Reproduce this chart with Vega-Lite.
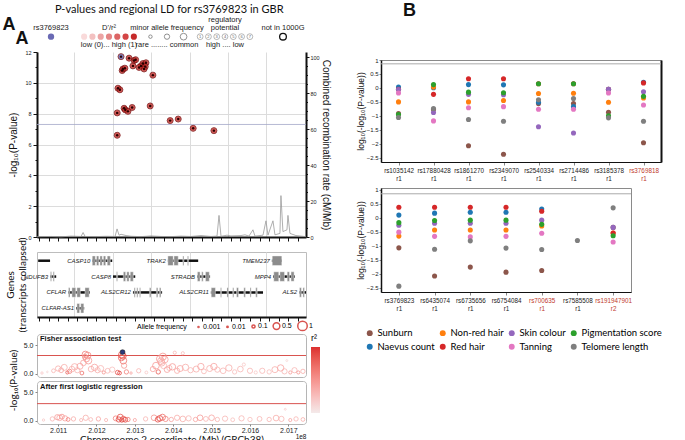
{
"$schema": "https://vega.github.io/schema/vega-lite/v6.json",
"padding": {"left": 2, "top": 2, "right": 0, "bottom": 0},
"background": "white",
"config": {
  "font": "Liberation Sans",
  "axis": {"titleFontWeight": "normal", "labelColor": "#222", "titleColor": "#111", "labelFont": "Liberation Sans", "titleFont": "Liberation Sans"},
  "title": {"fontWeight": "normal", "color": "#111"},
  "legend": {"labelFont": "Liberation Sans", "titleFont": "Liberation Sans", "titleFontWeight": "normal"}
},
"datasets": {
  "legtext": [
    {"g": "rs", "r": "h", "t": "rs3769823"},
    {"g": "ld", "r": "h", "t": "D'/r²"},
    {"g": "maf", "r": "h", "t": "minor allele frequency"},
    {"g": "reg", "r": "h0", "t": "regulatory"},
    {"g": "reg", "r": "h", "t": "potential"},
    {"g": "kg", "r": "h", "t": "not in 1000G"},
    {"g": "ld", "r": "c", "t": "low (0)... high (1)"},
    {"g": "maf", "r": "c", "t": "rare ........ common"},
    {"g": "reg", "r": "c", "t": "high .... low"}
  ],
  "legdots": [
    {"g": "rs", "r": "d", "k": 3},
    {"g": "ld", "r": "d", "k": 0}, {"g": "ld", "r": "d", "k": 1}, {"g": "ld", "r": "d", "k": 2}, {"g": "ld", "r": "d", "k": 3}, {"g": "ld", "r": "d", "k": 4}, {"g": "ld", "r": "d", "k": 5}, {"g": "ld", "r": "d", "k": 6},
    {"g": "maf", "r": "d", "k": 1}, {"g": "maf", "r": "d", "k": 3}, {"g": "maf", "r": "d", "k": 5},
    {"g": "reg", "r": "d", "k": 0, "n": "1"}, {"g": "reg", "r": "d", "k": 1, "n": "2"}, {"g": "reg", "r": "d", "k": 2, "n": "3"}, {"g": "reg", "r": "d", "k": 3, "n": "4"}, {"g": "reg", "r": "d", "k": 4, "n": "5"}, {"g": "reg", "r": "d", "k": 5, "n": "6"}, {"g": "reg", "r": "d", "k": 6, "n": "7"},
    {"g": "kg", "r": "d", "k": 3}
  ],
  "panels": [
    {"panel": "fisher", "pos": 201.045, "p": 6.1, "label": "Fisher association test"},
    {"panel": "logit", "pos": 201.045, "p": 5.95, "label": "After first logistic regression"}
  ],
  "snps": [
    {"pos": 201.285, "p": 11.6, "type": "ld"}, {"pos": 201.298, "p": 11.45, "type": "ld"}, {"pos": 201.302, "p": 11.5, "type": "ld"},
    {"pos": 201.321, "p": 11.25, "type": "ld"}, {"pos": 201.329, "p": 11.3, "type": "ld"}, {"pos": 201.316, "p": 11.1, "type": "ld"},
    {"pos": 201.327, "p": 11.05, "type": "ld"}, {"pos": 201.324, "p": 10.9, "type": "ld"}, {"pos": 201.311, "p": 11.0, "type": "ld"},
    {"pos": 201.295, "p": 11.1, "type": "ld"}, {"pos": 201.267, "p": 10.8, "type": "ld"}, {"pos": 201.269, "p": 10.9, "type": "ld"},
    {"pos": 201.274, "p": 10.95, "type": "ld"}, {"pos": 201.347, "p": 10.5, "type": "ld"}, {"pos": 201.256, "p": 9.65, "type": "ld"},
    {"pos": 201.261, "p": 9.55, "type": "ld"}, {"pos": 201.254, "p": 8.05, "type": "ld"}, {"pos": 201.272, "p": 8.35, "type": "ld"},
    {"pos": 201.275, "p": 8.25, "type": "ld"}, {"pos": 201.282, "p": 8.15, "type": "ld"}, {"pos": 201.293, "p": 8.4, "type": "ld"},
    {"pos": 201.340, "p": 8.5, "type": "ld"}, {"pos": 201.392, "p": 7.55, "type": "ld"}, {"pos": 201.413, "p": 7.65, "type": "ld"},
    {"pos": 201.452, "p": 7.05, "type": "ld"}, {"pos": 201.506, "p": 6.9, "type": "ld"}, {"pos": 201.254, "p": 6.6, "type": "ld"},
    {"pos": 201.264, "p": 11.7, "type": "lead"}
  ],
  "recomb": [
    {"pos": 201.0453, "rate": 0.2}, {"pos": 201.0818, "rate": 0.3}, {"pos": 201.1078, "rate": 0.1}, {"pos": 201.1339, "rate": 0.5},
    {"pos": 201.1599, "rate": 0.3}, {"pos": 201.1651, "rate": 2.5}, {"pos": 201.1703, "rate": 0.3}, {"pos": 201.199, "rate": 0.2},
    {"pos": 201.225, "rate": 0.4}, {"pos": 201.2484, "rate": 0.3}, {"pos": 201.2536, "rate": 4.5}, {"pos": 201.2589, "rate": 1.0},
    {"pos": 201.2641, "rate": 1.5}, {"pos": 201.2771, "rate": 0.8}, {"pos": 201.2901, "rate": 0.4}, {"pos": 201.3161, "rate": 0.2},
    {"pos": 201.3422, "rate": 0.6}, {"pos": 201.3682, "rate": 0.3}, {"pos": 201.3943, "rate": 0.2}, {"pos": 201.4203, "rate": 0.5},
    {"pos": 201.4464, "rate": 0.3}, {"pos": 201.4724, "rate": 0.8}, {"pos": 201.4984, "rate": 0.3}, {"pos": 201.5141, "rate": 0.5},
    {"pos": 201.5193, "rate": 12}, {"pos": 201.5245, "rate": 0.4}, {"pos": 201.5401, "rate": 1}, {"pos": 201.5505, "rate": 0.6},
    {"pos": 201.5766, "rate": 0.8}, {"pos": 201.587, "rate": 1.2}, {"pos": 201.5974, "rate": 0.5}, {"pos": 201.6078, "rate": 4},
    {"pos": 201.613, "rate": 0.5}, {"pos": 201.6339, "rate": 1}, {"pos": 201.6417, "rate": 9}, {"pos": 201.6469, "rate": 1},
    {"pos": 201.6599, "rate": 9}, {"pos": 201.6651, "rate": 1.2}, {"pos": 201.6781, "rate": 2}, {"pos": 201.6807, "rate": 23},
    {"pos": 201.6859, "rate": 3}, {"pos": 201.6964, "rate": 4}, {"pos": 201.699, "rate": 12}, {"pos": 201.7042, "rate": 2},
    {"pos": 201.7198, "rate": 0.8}, {"pos": 201.7328, "rate": 0.5}, {"pos": 201.7458, "rate": 0.2}
  ],
  "genes": [
    {"gene": "", "row": 1, "start": 201.048, "end": 201.079},
    {"gene": "CASP10", "row": 1, "start": 201.189, "end": 201.241},
    {"gene": "TRAK2", "row": 1, "start": 201.386, "end": 201.465},
    {"gene": "TMEM237", "row": 1, "start": 201.657, "end": 201.683},
    {"gene": "NDUFB3", "row": 2, "start": 201.079, "end": 201.095},
    {"gene": "CASP8", "row": 2, "start": 201.243, "end": 201.301},
    {"gene": "STRADB", "row": 2, "start": 201.462, "end": 201.496},
    {"gene": "MPP4", "row": 2, "start": 201.66, "end": 201.717},
    {"gene": "CFLAR", "row": 3, "start": 201.126, "end": 201.183},
    {"gene": "ALS2CR12", "row": 3, "start": 201.295, "end": 201.371},
    {"gene": "ALS2CR11", "row": 3, "start": 201.498, "end": 201.634},
    {"gene": "ALS2", "row": 3, "start": 201.728, "end": 201.76},
    {"gene": "CLFAR-AS1", "row": 4, "start": 201.147, "end": 201.168}
  ],
  "exons": [
    {"row": 1, "s": 201.189, "e": 201.197}, {"row": 1, "s": 201.2, "e": 201.206}, {"row": 1, "s": 201.209, "e": 201.215}, {"row": 1, "s": 201.218, "e": 201.224}, {"row": 1, "s": 201.228, "e": 201.236},
    {"row": 1, "s": 201.386, "e": 201.4}, {"row": 1, "s": 201.402, "e": 201.413}, {"row": 1, "s": 201.425, "e": 201.428}, {"row": 1, "s": 201.437, "e": 201.44},
    {"row": 1, "s": 201.658, "e": 201.683},
    {"row": 2, "s": 201.08, "e": 201.083}, {"row": 2, "s": 201.087, "e": 201.09},
    {"row": 2, "s": 201.252, "e": 201.255}, {"row": 2, "s": 201.27, "e": 201.276}, {"row": 2, "s": 201.279, "e": 201.285}, {"row": 2, "s": 201.288, "e": 201.296},
    {"row": 2, "s": 201.463, "e": 201.47}, {"row": 2, "s": 201.474, "e": 201.478}, {"row": 2, "s": 201.484, "e": 201.494},
    {"row": 2, "s": 201.662, "e": 201.675}, {"row": 2, "s": 201.678, "e": 201.69}, {"row": 2, "s": 201.697, "e": 201.703}, {"row": 2, "s": 201.707, "e": 201.715},
    {"row": 3, "s": 201.127, "e": 201.131}, {"row": 3, "s": 201.136, "e": 201.146}, {"row": 3, "s": 201.149, "e": 201.158}, {"row": 3, "s": 201.17, "e": 201.181},
    {"row": 3, "s": 201.298, "e": 201.301}, {"row": 3, "s": 201.305, "e": 201.308}, {"row": 3, "s": 201.312, "e": 201.315}, {"row": 3, "s": 201.338, "e": 201.342}, {"row": 3, "s": 201.356, "e": 201.36}, {"row": 3, "s": 201.364, "e": 201.368},
    {"row": 3, "s": 201.499, "e": 201.51}, {"row": 3, "s": 201.523, "e": 201.526}, {"row": 3, "s": 201.54, "e": 201.544}, {"row": 3, "s": 201.555, "e": 201.558}, {"row": 3, "s": 201.565, "e": 201.57}, {"row": 3, "s": 201.584, "e": 201.588}, {"row": 3, "s": 201.6, "e": 201.603}, {"row": 3, "s": 201.615, "e": 201.619},
    {"row": 3, "s": 201.729, "e": 201.734}, {"row": 3, "s": 201.738, "e": 201.742},
    {"row": 4, "s": 201.149, "e": 201.156}, {"row": 4, "s": 201.159, "e": 201.167}
  ],
  "fisher": [
    {"pos": 201.266, "p": 3.3, "r2": 0.85, "af": 0.5}, {"pos": 201.269, "p": 3.1, "r2": 0.9, "af": 0.45}, {"pos": 201.265, "p": 2.8, "r2": 0.75, "af": 0.4},
    {"pos": 201.27, "p": 2.3, "r2": 0.7, "af": 0.5}, {"pos": 201.272, "p": 1.4, "r2": 0.5, "af": 0.3},
    {"pos": 201.171, "p": 3.4, "r2": 0.6, "af": 0.45}, {"pos": 201.177, "p": 3.2, "r2": 0.55, "af": 0.5}, {"pos": 201.174, "p": 2.6, "r2": 0.5, "af": 0.4},
    {"pos": 201.179, "p": 2.3, "r2": 0.45, "af": 0.5}, {"pos": 201.166, "p": 1.9, "r2": 0.4, "af": 0.35}, {"pos": 201.17, "p": 2.95, "r2": 0.5, "af": 0.3},
    {"pos": 201.365, "p": 2.6, "r2": 0.45, "af": 0.5}, {"pos": 201.373, "p": 3.0, "r2": 0.5, "af": 0.55}, {"pos": 201.378, "p": 2.5, "r2": 0.4, "af": 0.5},
    {"pos": 201.37, "p": 1.9, "r2": 0.35, "af": 0.45}, {"pos": 201.368, "p": 2.2, "r2": 0.4, "af": 0.5}, {"pos": 201.375, "p": 1.4, "r2": 0.3, "af": 0.4},
    {"pos": 201.39, "p": 1.0, "r2": 0.3, "af": 0.3}, {"pos": 201.404, "p": 3.7, "r2": 0.3, "af": 0.1}, {"pos": 201.425, "p": 3.6, "r2": 0.25, "af": 0.1},
    {"pos": 201.584, "p": 1.6, "r2": 0.2, "af": 0.1}, {"pos": 201.696, "p": 2.3, "r2": 0.1, "af": 0.03},
    {"pos": 201.058, "p": 0.1, "r2": 0.2, "af": 0.05}, {"pos": 201.072, "p": 0.3, "r2": 0.1, "af": 0.02}, {"pos": 201.088, "p": 0.5, "r2": 0.3, "af": 0.15},
    {"pos": 201.1, "p": 0.9, "r2": 0.35, "af": 0.3}, {"pos": 201.108, "p": 0.6, "r2": 0.4, "af": 0.25}, {"pos": 201.116, "p": 1.1, "r2": 0.35, "af": 0.4},
    {"pos": 201.124, "p": 0.2, "r2": 0.8, "af": 0.1}, {"pos": 201.13, "p": 0.4, "r2": 0.6, "af": 0.2}, {"pos": 201.136, "p": 0.8, "r2": 0.3, "af": 0.35},
    {"pos": 201.143, "p": 1.2, "r2": 0.35, "af": 0.45}, {"pos": 201.15, "p": 0.6, "r2": 0.3, "af": 0.3}, {"pos": 201.157, "p": 1.3, "r2": 0.4, "af": 0.4},
    {"pos": 201.162, "p": 0.1, "r2": 0.7, "af": 0.15}, {"pos": 201.186, "p": 0.8, "r2": 0.35, "af": 0.35}, {"pos": 201.195, "p": 1.1, "r2": 0.4, "af": 0.45},
    {"pos": 201.203, "p": 0.6, "r2": 0.35, "af": 0.3}, {"pos": 201.211, "p": 0.9, "r2": 0.3, "af": 0.4}, {"pos": 201.219, "p": 0.2, "r2": 0.5, "af": 0.1},
    {"pos": 201.229, "p": 0.5, "r2": 0.3, "af": 0.25}, {"pos": 201.241, "p": 0.7, "r2": 0.25, "af": 0.3}, {"pos": 201.255, "p": 0.2, "r2": 0.85, "af": 0.2},
    {"pos": 201.26, "p": 0.1, "r2": 0.9, "af": 0.15}, {"pos": 201.278, "p": 0.3, "r2": 0.6, "af": 0.2}, {"pos": 201.29, "p": 0.1, "r2": 0.4, "af": 0.05},
    {"pos": 201.31, "p": 0.5, "r2": 0.3, "af": 0.2}, {"pos": 201.33, "p": 0.2, "r2": 0.2, "af": 0.08}, {"pos": 201.347, "p": 0.8, "r2": 0.4, "af": 0.3},
    {"pos": 201.355, "p": 1.4, "r2": 0.45, "af": 0.5}, {"pos": 201.361, "p": 0.3, "r2": 0.8, "af": 0.2}, {"pos": 201.384, "p": 0.7, "r2": 0.4, "af": 0.35},
    {"pos": 201.398, "p": 1.2, "r2": 0.45, "af": 0.45}, {"pos": 201.41, "p": 0.5, "r2": 0.35, "af": 0.3}, {"pos": 201.418, "p": 0.9, "r2": 0.4, "af": 0.4},
    {"pos": 201.432, "p": 1.1, "r2": 0.35, "af": 0.45}, {"pos": 201.445, "p": 0.6, "r2": 0.3, "af": 0.3}, {"pos": 201.46, "p": 0.8, "r2": 0.35, "af": 0.4},
    {"pos": 201.472, "p": 1.25, "r2": 0.4, "af": 0.45}, {"pos": 201.48, "p": 0.4, "r2": 0.3, "af": 0.25}, {"pos": 201.495, "p": 0.9, "r2": 0.35, "af": 0.4},
    {"pos": 201.506, "p": 1.25, "r2": 0.4, "af": 0.45}, {"pos": 201.515, "p": 0.7, "r2": 0.3, "af": 0.3}, {"pos": 201.53, "p": 0.5, "r2": 0.3, "af": 0.35},
    {"pos": 201.545, "p": 1.0, "r2": 0.35, "af": 0.45}, {"pos": 201.56, "p": 0.3, "r2": 0.25, "af": 0.2}, {"pos": 201.575, "p": 0.8, "r2": 0.3, "af": 0.35},
    {"pos": 201.6, "p": 0.5, "r2": 0.3, "af": 0.3}, {"pos": 201.615, "p": 0.2, "r2": 0.2, "af": 0.1}, {"pos": 201.632, "p": 0.5, "r2": 0.3, "af": 0.3},
    {"pos": 201.65, "p": 0.3, "r2": 0.25, "af": 0.2}, {"pos": 201.665, "p": 0.7, "r2": 0.35, "af": 0.4}, {"pos": 201.68, "p": 1.0, "r2": 0.4, "af": 0.45},
    {"pos": 201.69, "p": 0.4, "r2": 0.3, "af": 0.3}, {"pos": 201.705, "p": 0.2, "r2": 0.45, "af": 0.1}, {"pos": 201.716, "p": 0.6, "r2": 0.3, "af": 0.3},
    {"pos": 201.726, "p": 0.2, "r2": 0.5, "af": 0.1}, {"pos": 201.738, "p": 0.4, "r2": 0.35, "af": 0.2},
    {"pos": 201.268, "p": 3.8, "r2": 1, "af": 0.3, "lead": 1}
  ],
  "logit": [
    {"pos": 201.062, "p": 0.1, "r2": 0.2, "af": 0.05}, {"pos": 201.085, "p": 0.3, "r2": 0.3, "af": 0.2}, {"pos": 201.098, "p": 0.6, "r2": 0.45, "af": 0.3},
    {"pos": 201.104, "p": 0.5, "r2": 0.4, "af": 0.35}, {"pos": 201.11, "p": 0.7, "r2": 0.5, "af": 0.25}, {"pos": 201.118, "p": 0.4, "r2": 0.4, "af": 0.3},
    {"pos": 201.126, "p": 0.2, "r2": 0.6, "af": 0.15}, {"pos": 201.14, "p": 0.3, "r2": 0.35, "af": 0.2}, {"pos": 201.16, "p": 0.1, "r2": 0.3, "af": 0.1},
    {"pos": 201.172, "p": 0.5, "r2": 0.35, "af": 0.3}, {"pos": 201.185, "p": 0.2, "r2": 0.3, "af": 0.15}, {"pos": 201.205, "p": 0.3, "r2": 0.4, "af": 0.2},
    {"pos": 201.225, "p": 0.1, "r2": 0.3, "af": 0.1}, {"pos": 201.25, "p": 0.4, "r2": 0.6, "af": 0.25}, {"pos": 201.258, "p": 0.2, "r2": 0.9, "af": 0.3},
    {"pos": 201.262, "p": 0.6, "r2": 0.85, "af": 0.4}, {"pos": 201.266, "p": 0.1, "r2": 0.95, "af": 0.2}, {"pos": 201.27, "p": 0.3, "r2": 0.8, "af": 0.3},
    {"pos": 201.275, "p": 0.15, "r2": 0.9, "af": 0.25}, {"pos": 201.282, "p": 0.2, "r2": 0.6, "af": 0.2}, {"pos": 201.3, "p": 0.1, "r2": 0.4, "af": 0.1},
    {"pos": 201.328, "p": 0.3, "r2": 0.3, "af": 0.2}, {"pos": 201.35, "p": 0.5, "r2": 0.5, "af": 0.35}, {"pos": 201.36, "p": 0.2, "r2": 0.85, "af": 0.3},
    {"pos": 201.365, "p": 0.4, "r2": 0.9, "af": 0.35}, {"pos": 201.372, "p": 0.6, "r2": 0.7, "af": 0.4}, {"pos": 201.38, "p": 0.3, "r2": 0.6, "af": 0.3},
    {"pos": 201.395, "p": 0.2, "r2": 0.4, "af": 0.2}, {"pos": 201.41, "p": 0.5, "r2": 0.35, "af": 0.3}, {"pos": 201.425, "p": 0.3, "r2": 0.35, "af": 0.35},
    {"pos": 201.44, "p": 0.4, "r2": 0.3, "af": 0.3}, {"pos": 201.458, "p": 0.2, "r2": 0.4, "af": 0.2}, {"pos": 201.47, "p": 0.5, "r2": 0.45, "af": 0.35},
    {"pos": 201.485, "p": 0.3, "r2": 0.3, "af": 0.25}, {"pos": 201.5, "p": 0.5, "r2": 0.4, "af": 0.35}, {"pos": 201.515, "p": 0.2, "r2": 0.3, "af": 0.2},
    {"pos": 201.535, "p": 0.35, "r2": 0.3, "af": 0.3}, {"pos": 201.555, "p": 0.15, "r2": 0.25, "af": 0.15}, {"pos": 201.578, "p": 0.4, "r2": 0.3, "af": 0.3},
    {"pos": 201.6, "p": 0.2, "r2": 0.25, "af": 0.2}, {"pos": 201.625, "p": 0.3, "r2": 0.3, "af": 0.25}, {"pos": 201.65, "p": 0.2, "r2": 0.3, "af": 0.2},
    {"pos": 201.668, "p": 0.45, "r2": 0.35, "af": 0.35}, {"pos": 201.682, "p": 0.3, "r2": 0.3, "af": 0.3}, {"pos": 201.692, "p": 2.0, "r2": 0.15, "af": 0.03},
    {"pos": 201.705, "p": 0.1, "r2": 0.4, "af": 0.1}, {"pos": 201.72, "p": 0.3, "r2": 0.3, "af": 0.2}, {"pos": 201.738, "p": 0.2, "r2": 0.35, "af": 0.15}
  ],
  "b1": [
    {"snp": "rs1035142|r1", "Sunburn": -0.92, "Naevus count": 0.03, "Non-red hair": -0.5, "Red hair": -0.05, "Skin colour": -0.06, "Tanning": -0.18, "Pigmentation score": -0.95, "Telomere length": -1.06},
    {"snp": "rs17880428|r1", "Sunburn": -0.77, "Naevus count": 0.01, "Non-red hair": 0.03, "Red hair": -0.23, "Skin colour": -0.88, "Tanning": -1.18, "Pigmentation score": 0.12, "Telomere length": -0.74},
    {"snp": "rs1861270|r1", "Sunburn": -2.07, "Naevus count": 0.12, "Non-red hair": -0.5, "Red hair": 0.33, "Skin colour": -0.23, "Tanning": -0.71, "Pigmentation score": -0.15, "Telomere length": -1.13},
    {"snp": "rs2349070|r1", "Sunburn": -2.37, "Naevus count": 0.11, "Non-red hair": -0.45, "Red hair": 0.33, "Skin colour": -0.24, "Tanning": -0.67, "Pigmentation score": -0.17, "Telomere length": -1.19},
    {"snp": "rs2540334|r1", "Sunburn": -0.56, "Naevus count": -0.51, "Non-red hair": -0.2, "Red hair": 0.15, "Skin colour": -1.39, "Tanning": -0.76, "Pigmentation score": 0.15, "Telomere length": -0.42},
    {"snp": "rs2714486|r1", "Sunburn": -0.56, "Naevus count": -0.67, "Non-red hair": -0.19, "Red hair": 0.15, "Skin colour": -1.61, "Tanning": -0.76, "Pigmentation score": 0.15, "Telomere length": -0.38},
    {"snp": "rs3185378|r1", "Sunburn": -0.87, "Naevus count": -0.05, "Non-red hair": -0.51, "Red hair": -0.05, "Skin colour": -0.05, "Tanning": -0.18, "Pigmentation score": -1.0, "Telomere length": -1.07},
    {"snp": "rs3769818|r1", "Sunburn": -1.96, "Naevus count": 0.2, "Non-red hair": -0.36, "Red hair": 0.18, "Skin colour": -0.14, "Tanning": -0.61, "Pigmentation score": -0.3, "Telomere length": -1.19}
  ],
  "b2": [
    {"snp": "rs3769823|r1", "Sunburn": -1.07, "Naevus count": 0.1, "Non-red hair": -0.65, "Red hair": 0.38, "Skin colour": -0.26, "Tanning": -0.51, "Pigmentation score": -0.17, "Telomere length": -2.44},
    {"snp": "rs6435074|r1", "Sunburn": -2.08, "Naevus count": 0.17, "Non-red hair": -0.43, "Red hair": 0.38, "Skin colour": -0.19, "Tanning": -0.66, "Pigmentation score": -0.09, "Telomere length": -1.12},
    {"snp": "rs6735656|r1", "Sunburn": -1.76, "Naevus count": 0.2, "Non-red hair": -0.43, "Red hair": 0.38, "Skin colour": -0.19, "Tanning": -0.68, "Pigmentation score": -0.08, "Telomere length": -0.82},
    {"snp": "rs6754084|r1", "Sunburn": -1.94, "Naevus count": 0.2, "Non-red hair": -0.43, "Red hair": 0.38, "Skin colour": -0.19, "Tanning": -0.66, "Pigmentation score": -0.08, "Telomere length": -1.08},
    {"snp": "rs700635|r1", "Sunburn": -1.88, "Naevus count": 0.32, "Non-red hair": -0.29, "Red hair": 0.24, "Skin colour": -0.08, "Tanning": -0.55, "Pigmentation score": -0.23, "Telomere length": -1.13},
    {"snp": "rs7585508|r1", "Telomere length": -0.81},
    {"snp": "rs191947901|r2", "Sunburn": -0.34, "Non-red hair": -0.54, "Red hair": -0.54, "Skin colour": -0.34, "Tanning": -0.86, "Pigmentation score": -0.64, "Telomere length": 0.36}
  ]
},
"spacing": 18,
"resolve": {"scale": {"color": "independent", "stroke": "independent", "size": "independent", "x": "independent", "y": "independent"}, "legend": {"color": "independent", "stroke": "independent", "size": "independent"}},
"hconcat": [
{
  "title": {"text": "P-values and regional LD for rs3769823 in GBR", "anchor": "middle", "fontSize": 11, "font": "Lato", "offset": 0},
  "spacing": 7,
  "bounds": "flush",
  "resolve": {"scale": {"color": "independent", "stroke": "independent", "size": "independent", "x": "independent", "y": "independent"}, "legend": {"color": "independent", "stroke": "independent", "size": "independent"}},
  "vconcat": [
    {
      "width": 269, "height": 25,
      "view": {"stroke": null},
      "layer": [
        {"data": {"name": "legtext"}, "transform": [{"filter": "datum.r !== 'c'"}], "mark": {"type": "text", "fontSize": 7.5, "font": "Liberation Sans Narrow, Liberation Sans", "baseline": "middle", "color": "#222"},
         "encoding": {
           "x": {"field": "g", "type": "nominal", "scale": {"type": "band", "domain": ["rs", "ld", "maf", "reg", "kg"], "range": [-15, 275], "paddingInner": 0, "paddingOuter": 0},
                 "axis": {"orient": "top", "labels": false, "ticks": false, "domain": false, "grid": false, "title": "A", "titleFontSize": 18, "titleFontWeight": "bold", "titleX": -35, "titleY": 9, "titleAlign": "left", "titleBaseline": "alphabetic"}},
           "y": {"field": "r", "type": "nominal", "scale": {"type": "point", "domain": ["h0", "h", "d", "c"], "padding": 0},
                 "axis": {"title": "A", "titleAngle": 0, "titleFontSize": 18, "titleFontWeight": "bold", "titleX": -9, "titleY": 18, "titleAlign": "right", "titleBaseline": "middle", "labels": false, "ticks": false, "domain": false, "grid": false}},
           "text": {"field": "t"}}},
        {"data": {"name": "legtext"}, "transform": [{"filter": "datum.r === 'c'"}], "mark": {"type": "text", "fontSize": 7.5, "font": "Liberation Sans Narrow, Liberation Sans", "baseline": "middle", "color": "#222"},
         "encoding": {
           "x": {"field": "g", "type": "nominal"},
           "y": {"field": "r", "type": "nominal"},
           "text": {"field": "t"}}},
        {"data": {"name": "legdots"}, "transform": [{"filter": "datum.g === 'rs'"}], "mark": {"type": "circle", "size": 40, "color": "#6a6ab4", "opacity": 1},
         "encoding": {"x": {"field": "g", "type": "nominal"}, "xOffset": {"field": "k", "type": "nominal", "scale": {"domain": [0, 1, 2, 3, 4, 5, 6]}}, "y": {"field": "r", "type": "nominal"}}},
        {"data": {"name": "legdots"}, "transform": [{"filter": "datum.g === 'ld'"}], "mark": {"type": "circle", "size": 38, "opacity": 1},
         "encoding": {"x": {"field": "g", "type": "nominal"}, "xOffset": {"field": "k", "type": "nominal"}, "y": {"field": "r", "type": "nominal"},
           "color": {"field": "k", "type": "ordinal", "scale": {"domain": [0, 1, 2, 3, 4, 5, 6], "range": ["#f9dada", "#f3c1c1", "#eca4a4", "#e48585", "#dc6565", "#d34545", "#c62a2a"]}, "legend": null}}},
        {"data": {"name": "legdots"}, "transform": [{"filter": "datum.g === 'maf'"}], "mark": {"type": "point", "filled": false, "color": "#777", "strokeWidth": 0.8, "opacity": 1},
         "encoding": {"x": {"field": "g", "type": "nominal"}, "xOffset": {"field": "k", "type": "nominal"}, "y": {"field": "r", "type": "nominal"},
           "size": {"field": "k", "type": "ordinal", "scale": {"domain": [1, 3, 5], "range": [12, 45, 100]}, "legend": null}}},
        {"data": {"name": "legdots"}, "transform": [{"filter": "datum.g === 'reg'"}], "mark": {"type": "point", "filled": false, "color": "#888", "size": 34, "strokeWidth": 0.6, "opacity": 1},
         "encoding": {"x": {"field": "g", "type": "nominal"}, "xOffset": {"field": "k", "type": "nominal"}, "y": {"field": "r", "type": "nominal"}}},
        {"data": {"name": "legdots"}, "transform": [{"filter": "datum.g === 'reg'"}], "mark": {"type": "text", "fontSize": 4, "color": "#666"},
         "encoding": {"x": {"field": "g", "type": "nominal"}, "xOffset": {"field": "k", "type": "nominal"}, "y": {"field": "r", "type": "nominal"}, "text": {"field": "n"}}},
        {"data": {"name": "legdots"}, "transform": [{"filter": "datum.g === 'kg'"}], "mark": {"type": "point", "filled": false, "color": "#111", "size": 45, "strokeWidth": 1.3, "opacity": 1},
         "encoding": {"x": {"field": "g", "type": "nominal"}, "xOffset": {"field": "k", "type": "nominal"}, "y": {"field": "r", "type": "nominal"}}}
      ]
    },
    {
      "width": 269, "height": 185,
      "view": {"stroke": null},
      "layer": [
        {"data": {"name": "recomb"}, "mark": {"type": "line", "color": "#9a9a9a", "strokeWidth": 0.8},
         "encoding": {
           "x": {"field": "pos", "type": "quantitative", "scale": {"domain": [201.045, 201.746], "nice": false, "zero": false},
                 "axis": {"orient": "bottom", "values": [201.1417, 201.2432, 201.3422, 201.4438, 201.5427, 201.6417], "grid": true, "gridColor": "#dcdcdc", "ticks": false, "labels": false, "domain": false, "title": null}},
           "y": {"field": "rate", "type": "quantitative", "scale": {"domain": [0, 102.8], "nice": false},
                 "axis": {"orient": "right", "values": [0, 5, 10, 15, 20, 25, 30, 35, 40, 45, 50, 55, 60, 65, 70, 75, 80, 85, 90, 95, 100], "format": "d",
                          "labelExpr": "datum.value % 20 === 0 ? datum.label : ''", "labelFontSize": 5.5, "labelPadding": 1,
                          "tickSize": {"condition": {"test": "datum.value % 20 === 0", "value": 3}, "value": 1.5}, "tickColor": "#111", "domainColor": "#111", "domainWidth": 2, "grid": false,
                          "title": "Combined recombination rate (cM/Mb)", "titleFontSize": 10, "titlePadding": 1}}}},
        {"data": {"values": [{"thr": 7.3}]}, "mark": {"type": "rule", "color": "#a3a7c8", "strokeWidth": 0.8},
         "encoding": {
           "y": {"field": "thr", "type": "quantitative", "scale": {"domain": [0, 12], "nice": false},
                 "axis": {"orient": "left", "values": [0, 0.5, 1, 1.5, 2, 2.5, 3, 3.5, 4, 4.5, 5, 5.5, 6, 6.5, 7, 7.5, 8, 8.5, 9, 9.5, 10, 10.5, 11, 11.5, 12], "format": "d",
                          "labelExpr": "datum.value % 2 === 0 ? datum.label : ''", "labelFontSize": 5.5, "labelPadding": 2,
                          "tickSize": {"condition": {"test": "datum.value % 2 === 0", "value": 4}, "value": 2}, "tickColor": "#111", "domainColor": "#111", "domainWidth": 2,
                          "grid": true, "gridColor": "#dcdcdc", "gridOpacity": {"condition": {"test": "datum.value % 2 === 0 && datum.value > 0 && datum.value < 12", "value": 1}, "value": 0},
                          "title": "-log₁₀(P-value)", "titleFontSize": 10, "titlePadding": 6}}}},
        {"data": {"name": "snps"}, "mark": {"type": "circle", "size": 36, "opacity": 0.8, "stroke": "#7a1010", "strokeWidth": 1},
         "encoding": {
           "x": {"field": "pos", "type": "quantitative", "scale": {"domain": [201.045, 201.746], "nice": false, "zero": false},
                 "axis": {"orient": "bottom", "values": [201.05, 201.075, 201.1, 201.125, 201.15, 201.175, 201.2, 201.225, 201.25, 201.275, 201.3, 201.325, 201.35, 201.375, 201.4, 201.425, 201.45, 201.475, 201.5, 201.525, 201.55, 201.575, 201.6, 201.625, 201.65, 201.675, 201.7, 201.725],
                          "labels": false, "tickSize": 4, "tickColor": "#111", "domainColor": "#111", "domainWidth": 2, "grid": false, "title": null}},
           "y": {"field": "p", "type": "quantitative", "scale": {"domain": [0, 12], "nice": false}, "axis": null},
           "color": {"field": "type", "type": "nominal", "scale": {"domain": ["ld", "lead"], "range": ["#c9302c", "#5a5fb0"]}, "legend": null}}},
        {"data": {"name": "snps"}, "mark": {"type": "circle", "size": 6, "color": "#2a0000", "opacity": 1},
         "encoding": {
           "x": {"field": "pos", "type": "quantitative", "scale": {"domain": [201.045, 201.746], "nice": false, "zero": false}, "axis": null},
           "y": {"field": "p", "type": "quantitative", "scale": {"domain": [0, 12], "nice": false}, "axis": null}}}
      ],
      "resolve": {"scale": {"x": "independent", "y": "independent"}, "axis": {"x": "independent", "y": "independent"}}
    },
    {
      "spacing": 4,
      "bounds": "flush",
      "resolve": {"scale": {"color": "independent", "stroke": "independent", "size": "independent", "x": "independent", "y": "independent"}, "legend": {"color": "independent", "stroke": "independent", "size": "independent"}},
      "vconcat": [
        {
          "width": 269, "height": 4,
          "view": {"stroke": null},
          "data": {"values": [{}]},
          "mark": {"type": "point", "opacity": 0}
        },
        {
          "width": 269, "height": 65,
          "view": {"stroke": "#bdbdbd"},
          "layer": [
            {"data": {"name": "genes"}, "mark": {"type": "rule", "color": "#111", "strokeWidth": 2.5, "clip": true},
             "encoding": {
               "x": {"field": "start", "type": "quantitative", "scale": {"domain": [201.045, 201.746], "nice": false, "zero": false},
                     "axis": {"orient": "bottom", "values": [201.1417, 201.2432, 201.3422, 201.4438, 201.5427, 201.6417], "grid": true, "gridColor": "#dcdcdc", "ticks": false, "labels": false, "domain": false, "title": null}},
               "x2": {"field": "end"},
               "y": {"field": "row", "type": "ordinal", "scale": {"type": "band", "domain": [1, 2, 3, 4], "paddingInner": 0.4, "paddingOuter": 0.25},
                     "axis": {"title": ["Genes", "(transcripts collapsed)"], "titleFontSize": 10, "titleFont": "Lato", "labels": false, "ticks": false, "domain": false, "titlePadding": 10}}}},
            {"data": {"name": "exons"}, "mark": {"type": "bar", "color": "#8c8c8c", "stroke": "#ffffff", "strokeWidth": 0.4, "clip": true},
             "encoding": {
               "x": {"field": "s", "type": "quantitative", "scale": {"domain": [201.045, 201.746], "nice": false, "zero": false},
                     "axis": {"orient": "bottom", "values": [201.05, 201.075, 201.1, 201.125, 201.15, 201.175, 201.2, 201.225, 201.25, 201.275, 201.3, 201.325, 201.35, 201.375, 201.4, 201.425, 201.45, 201.475, 201.5, 201.525, 201.55, 201.575, 201.6, 201.625, 201.65, 201.675, 201.7, 201.725],
                              "labels": false, "tickSize": 4, "tickColor": "#111", "domainColor": "#111", "domainWidth": 2, "grid": false, "title": null}},
               "x2": {"field": "e"},
               "y": {"field": "row", "type": "ordinal"}}},
            {"data": {"name": "genes"}, "mark": {"type": "text", "align": "right", "dx": -2, "fontSize": 6, "font": "Liberation Sans Narrow, Liberation Sans", "fontStyle": "italic", "color": "#222"},
             "encoding": {
               "x": {"field": "start", "type": "quantitative", "scale": {"domain": [201.045, 201.746], "nice": false, "zero": false}, "axis": null},
               "y": {"field": "row", "type": "ordinal"},
               "text": {"field": "gene"}}}
          ],
          "resolve": {"scale": {"x": "independent"}, "axis": {"x": "independent"}}
        },
        {
          "width": 269, "height": 9,
          "view": {"stroke": null},
          "data": {"values": [{}]},
          "mark": {"type": "point", "opacity": 0}
        },
        {
          "width": 269, "height": 43,
          "view": {"stroke": "#b5b5b5", "cornerRadius": 3},
          "layer": [
            {"data": {"values": [{"thr": 3.2}]}, "mark": {"type": "rule", "color": "#d9534f", "strokeWidth": 1},
             "encoding": {"y": {"field": "thr", "type": "quantitative", "scale": {"domain": [-0.6, 7.0], "nice": false, "zero": false},
               "axis": {"values": [0, 2.5, 5], "format": ".1f", "labelFontSize": 7, "tickSize": 2, "domain": false, "grid": false,
                        "title": "-log₁₀(P-value)", "titleFontSize": 10, "titleFont": "Lato", "titleY": 46, "titlePadding": 5}}}},
            {"data": {"name": "fisher"}, "transform": [{"filter": "datum.lead !== 1"}], "mark": {"type": "point", "filled": false, "strokeWidth": 0.8, "opacity": 1, "clip": true},
             "encoding": {
               "x": {"field": "pos", "type": "quantitative", "scale": {"domain": [201.045, 201.746], "nice": false, "zero": false}, "axis": null},
               "y": {"field": "p", "type": "quantitative"},
               "stroke": {"field": "r2", "type": "quantitative", "scale": {"domain": [0, 1], "range": ["#f4eaea", "#dc2f2f"]},
                 "legend": {"type": "gradient", "orient": "right", "offset": 5, "direction": "vertical", "gradientLength": 66, "gradientThickness": 9, "title": "r²", "titleFontSize": 9, "labelOpacity": 0, "titlePadding": 4, "padding": 0}},
               "size": {"field": "af", "type": "quantitative", "scale": {"domain": [0, 1], "range": [1, 90]},
                 "legend": {"orient": "none", "legendX": 100, "legendY": -14, "direction": "horizontal", "title": "Allele frequency", "titleOrient": "left", "titleFontSize": 7, "labelFontSize": 7, "format": "~g",
                            "values": [0.001, 0.01, 0.1, 0.5, 1], "symbolStrokeColor": "#d9534f", "symbolFillColor": "#f6cfcf", "symbolType": "circle", "columnPadding": 2, "titlePadding": 8, "labelOffset": 1}}}},
            {"data": {"name": "fisher"}, "transform": [{"filter": "datum.lead === 1"}], "mark": {"type": "circle", "color": "#2b3a7a", "size": 24, "stroke": "#111", "strokeWidth": 0.5, "opacity": 1},
             "encoding": {"x": {"field": "pos", "type": "quantitative"}, "y": {"field": "p", "type": "quantitative"}}},
            {"data": {"name": "panels"}, "transform": [{"filter": "datum.panel === 'fisher'"}], "mark": {"type": "text", "align": "left", "baseline": "middle", "fontSize": 7.5, "fontWeight": "bold", "dx": 3, "color": "#111"},
             "encoding": {"x": {"field": "pos", "type": "quantitative"}, "y": {"field": "p", "type": "quantitative"}, "text": {"field": "label"}}}
          ]
        },
        {
          "width": 269, "height": 43,
          "view": {"stroke": "#b5b5b5", "cornerRadius": 3},
          "layer": [
            {"data": {"values": [{"thr": 3.0}]}, "mark": {"type": "rule", "color": "#d9534f", "strokeWidth": 1},
             "encoding": {"y": {"field": "thr", "type": "quantitative", "scale": {"domain": [-0.6, 7.0], "nice": false, "zero": false},
               "axis": {"values": [0, 2.5, 5], "format": ".1f", "labelFontSize": 7, "tickSize": 2, "domain": false, "grid": false, "title": null}}}},
            {"data": {"name": "logit"}, "mark": {"type": "point", "filled": false, "strokeWidth": 0.8, "opacity": 1, "clip": true},
             "encoding": {
               "x": {"field": "pos", "type": "quantitative", "scale": {"domain": [201.045, 201.746], "nice": false, "zero": false},
                     "axis": {"orient": "bottom", "values": [201.1, 201.2, 201.3, 201.4, 201.5, 201.6, 201.7], "labelExpr": "format(datum.value / 100, '.3f')", "labelFontSize": 7, "labelPadding": 0, "tickSize": 2, "domain": false, "grid": false,
                              "title": "Chromosome 2 coordinate (Mb) (GRCh38)", "titleFontSize": 10, "titleFont": "Lato", "titlePadding": 1}},
               "y": {"field": "p", "type": "quantitative"},
               "stroke": {"field": "r2", "type": "quantitative", "scale": {"domain": [0, 1], "range": ["#f4eaea", "#dc2f2f"]}, "legend": null},
               "size": {"field": "af", "type": "quantitative", "scale": {"domain": [0, 1], "range": [1, 90]}, "legend": null}}},
            {"data": {"name": "logit"}, "mark": {"type": "point", "opacity": 0},
             "encoding": {
               "x": {"field": "pos", "type": "quantitative", "scale": {"domain": [201.045, 201.746], "nice": false, "zero": false},
                     "axis": {"orient": "bottom", "labels": false, "ticks": false, "domain": false, "grid": false, "title": "1e8", "titleFontSize": 6.5, "titleAnchor": "end", "titlePadding": 9}},
               "y": {"field": "p", "type": "quantitative"}}},
            {"data": {"name": "panels"}, "transform": [{"filter": "datum.panel === 'logit'"}], "mark": {"type": "text", "align": "left", "baseline": "middle", "fontSize": 7.5, "fontWeight": "bold", "dx": 3, "color": "#111"},
             "encoding": {"x": {"field": "pos", "type": "quantitative", "scale": {"domain": [201.045, 201.746], "nice": false, "zero": false}, "axis": null}, "y": {"field": "p", "type": "quantitative"}, "text": {"field": "label"}}}
          ],
          "resolve": {"scale": {"x": "independent"}, "axis": {"x": "independent"}}
        }
      ]
    }
  ]
},
{
  "spacing": 26,
  "bounds": "flush",
  "resolve": {"scale": {"color": "independent", "x": "independent", "y": "independent"}, "legend": {"color": "independent"}},
  "vconcat": [
    {
      "width": 280, "height": 14,
      "view": {"stroke": null},
      "title": {"text": "B", "anchor": "start", "frame": "group", "fontSize": 18, "fontWeight": "bold", "dx": 22, "offset": 0},
      "data": {"values": [{}]},
      "mark": {"type": "point", "opacity": 0}
    },
    {
      "width": 280, "height": 102,
      "view": {"stroke": "#8a8a8a"},
      "layer": [
        {"data": {"values": [{"thr": 0.863}]}, "mark": {"type": "rule", "color": "#aaaaaa", "strokeWidth": 1},
         "encoding": {"y": {"field": "thr", "type": "quantitative", "scale": {"domain": [-2.65, 1], "nice": false, "zero": false},
           "axis": {"orient": "right", "labels": false, "ticks": false, "grid": false, "title": null, "domainColor": "#111", "domainWidth": 2}}}},
        {"data": {"name": "b1"}, "transform": [{"fold": ["Sunburn", "Naevus count", "Non-red hair", "Red hair", "Skin colour", "Tanning", "Pigmentation score", "Telomere length"], "as": ["trait", "v"]}, {"filter": "isValid(datum.v)"}],
         "mark": {"type": "circle", "size": 26, "opacity": 1},
         "encoding": {
           "x": {"field": "snp", "type": "nominal", "scale": {"type": "point", "padding": 0.5, "domain": ["rs1035142|r1", "rs17880428|r1", "rs1861270|r1", "rs2349070|r1", "rs2540334|r1", "rs2714486|r1", "rs3185378|r1", "rs3769818|r1"]},
                 "axis": {"labelExpr": "split(datum.value, '|')", "labelAngle": 0, "labelFontSize": 6.3, "labelFont": "Liberation Sans Narrow, Liberation Sans", "labelPadding": 2, "tickSize": 3, "domainColor": "#111", "title": null,
                          "labelColor": {"condition": {"test": "test(/rs3769818|rs700635|rs191947901/, datum.value)", "value": "#c0392b"}, "value": "#222"}}},
           "y": {"field": "v", "type": "quantitative", "scale": {"domain": [-2.65, 1], "nice": false, "zero": false},
                 "axis": {"orient": "left", "values": [1, 0.5, 0, -0.5, -1, -1.5, -2, -2.5], "format": "~g", "labelFontSize": 6, "labelPadding": 1, "tickSize": 2, "domainColor": "#111", "domainWidth": 1.5, "grid": false,
                          "title": "log₁₀(-log₁₀(P-value))", "titleFontSize": 8.5, "titlePadding": 1}},
           "color": {"field": "trait", "type": "nominal", "scale": {"domain": ["Sunburn", "Non-red hair", "Skin colour", "Pigmentation score", "Naevus count", "Red hair", "Tanning", "Telomere length"], "range": ["#8c564b", "#ff7f0e", "#9467bd", "#2ca02c", "#1f77b4", "#d62728", "#e377c2", "#7f7f7f"]}, "legend": null}}}
      ],
      "resolve": {"scale": {"y": "independent"}, "axis": {"y": "independent"}}
    },
    {
      "width": 250, "height": 104,
      "view": {"stroke": "#8a8a8a"},
      "layer": [
        {"data": {"values": [{"thr": 0.863}]}, "mark": {"type": "rule", "color": "#aaaaaa", "strokeWidth": 1},
         "encoding": {"y": {"field": "thr", "type": "quantitative", "scale": {"domain": [-2.65, 1.07], "nice": false, "zero": false}, "axis": null}}},
        {"data": {"name": "b2"}, "transform": [{"fold": ["Sunburn", "Naevus count", "Non-red hair", "Red hair", "Skin colour", "Tanning", "Pigmentation score", "Telomere length"], "as": ["trait", "v"]}, {"filter": "isValid(datum.v)"}],
         "mark": {"type": "circle", "size": 26, "opacity": 1},
         "encoding": {
           "x": {"field": "snp", "type": "nominal", "scale": {"type": "point", "padding": 0.5, "domain": ["rs3769823|r1", "rs6435074|r1", "rs6735656|r1", "rs6754084|r1", "rs700635|r1", "rs7585508|r1", "rs191947901|r2"]},
                 "axis": {"labelExpr": "split(datum.value, '|')", "labelAngle": 0, "labelFontSize": 6.3, "labelFont": "Liberation Sans Narrow, Liberation Sans", "labelPadding": 2, "tickSize": 3, "domainColor": "#111", "title": null,
                          "labelColor": {"condition": {"test": "test(/rs3769818|rs700635|rs191947901/, datum.value)", "value": "#c0392b"}, "value": "#222"}}},
           "y": {"field": "v", "type": "quantitative", "scale": {"domain": [-2.65, 1.07], "nice": false, "zero": false},
                 "axis": {"orient": "left", "values": [1, 0.5, 0, -0.5, -1, -1.5, -2, -2.5], "format": "~g", "labelFontSize": 6, "labelPadding": 1, "tickSize": 2, "domainColor": "#111", "domainWidth": 1.5, "grid": false,
                          "title": "log₁₀(-log₁₀(P-value))", "titleFontSize": 8.5, "titlePadding": 1}},
           "color": {"field": "trait", "type": "nominal", "scale": {"domain": ["Sunburn", "Non-red hair", "Skin colour", "Pigmentation score", "Naevus count", "Red hair", "Tanning", "Telomere length"], "range": ["#8c564b", "#ff7f0e", "#9467bd", "#2ca02c", "#1f77b4", "#d62728", "#e377c2", "#7f7f7f"]},
                     "legend": {"orient": "none", "legendX": -16, "legendY": 140, "columns": 4, "direction": "horizontal", "title": null, "labelFontSize": 9.5, "labelFont": "Lato", "symbolType": "circle", "symbolSize": 35, "columnPadding": 3, "rowPadding": 3, "labelOffset": 3}}}}
      ],
      "resolve": {"scale": {"y": "independent"}, "axis": {"y": "independent"}}
    }
  ]
}
]
}
